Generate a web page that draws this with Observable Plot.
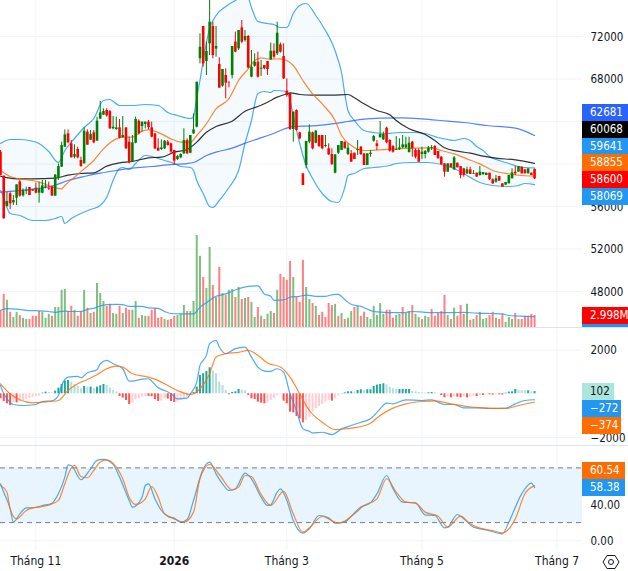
<!DOCTYPE html>
<html><head><meta charset="utf-8">
<script src="https://cdn.jsdelivr.net/npm/d3@7"></script>
<script src="https://cdn.jsdelivr.net/npm/@observablehq/plot@0.6"></script>
<style>
html,body{margin:0;padding:0;background:#fff;overflow:hidden}
#chart{position:relative;width:628px;height:571px;overflow:hidden;font-family:"DejaVu Sans Condensed","DejaVu Sans",sans-serif}
.tag{position:absolute;left:582px;height:17px;line-height:17px;color:#fff;font-size:11.5px;padding-left:8px;box-sizing:border-box;white-space:nowrap;overflow:hidden}
.sep{position:absolute;left:0;width:628px;height:1px;background:#E0E3EB}
</style></head><body><div id="chart"></div>
<script>
const opens=[61115,58856,56000,57200,56345,56785,58320,57005,57445,57790,57445,57725,57255,57255,57820,57665,57820,56975,58670,59700,61585,62840,61900,60645,61365,60330,60015,62995,62245,62935,62150,64220,64600,65035,64940,63310,63250,63405,62465,63405,62055,60205,61960,64030,63530,63720,63940,63405,62840,61490,61365,61430,62055,61900,61270,60425,60580,60960,62210,61020,62840,63467,69900,72940,69650,71310,72940,70810,69365,67325,68330,67700,68330,71470,70840,72815,71625,72000,68175,69210,69585,68925,69270,69650,69805,70620,70370,71215,70120,66855,66605,63250,65035,62935,59076,59860,62056,62935,61962,62684,62684,61649,61429,60896,59139,61021,61272,62056,60896,60958,61021,61272,61586,60958,59860,60896,62150,61900,62464,62276,63374,62213,61649,61272,61335,61523,61523,61084,62056,61272,61272,60896,60896,61115,61429,61649,61178,60645,60017,59233,60017,59453,60080,59766,59547,59076,59453,59013,59139,58919,58982,58919,59139,58512,58292,58825,58135,58010,58135,58606,59233,59233,59704,59453,59076,59139,59484];
const highs=[61270,58860,57350,57350,57035,58040,58450,57665,57820,57790,57570,58200,58290,58450,58450,58290,57945,59015,60015,62055,63215,63215,62210,61805,61585,60645,63405,63215,63155,63155,64410,65885,65195,65195,65035,64470,64410,64190,64470,63405,62525,62685,64410,64160,63940,63940,64095,63940,62840,62370,62275,62210,62210,61960,61270,60800,60960,63310,62370,62685,64720,67700,72250,72940,71470,75390,73350,72940,69990,68895,68960,67700,71060,72410,72565,73505,72565,72095,70680,70370,70525,69740,69270,69650,71375,71310,73350,71375,71310,68015,66665,64880,65100,62995,59076,62119,63687,62997,63154,62684,62684,62684,61900,61429,60864,61743,62119,62056,61900,61272,61021,62213,61649,60958,60958,61272,62684,62213,63999,62997,63468,62276,61743,62590,62370,62684,62527,62527,62119,61429,61429,61586,61272,61649,61743,61743,61178,60708,60017,60017,60017,60708,60080,59766,59547,59704,59704,59390,59139,59766,59201,59139,59139,58606,58919,58825,58135,58261,58919,59547,59766,59766,59704,59453,59547,59139,59547];
const lows=[58920,54840,55940,55720,56095,56095,56880,56880,57130,57035,57445,57195,56315,57195,57665,57510,56975,56975,58450,59700,61585,61900,60580,60490,60490,59700,60015,61775,62210,61900,62150,64220,64565,64410,63250,63215,63155,62370,62465,61365,60015,60175,61900,62745,62995,63310,63215,62465,61365,61210,61270,61365,61680,61020,59860,60330,60490,60895,60895,60960,62780,63405,69430,69115,68330,70210,69900,70055,67140,67230,66135,67170,68015,70465,70680,71310,71470,68960,68110,69115,68080,68235,68865,68330,69740,69900,70210,70435,67955,66290,63155,62055,63090,62280,57978,59547,61900,61335,61900,61549,61335,61523,60802,59860,59076,60896,61272,61429,60802,60174,60425,60802,60802,59860,59860,60645,62056,61272,62464,62213,61900,61115,61021,61272,61272,61429,61429,61021,60645,60488,60174,60425,60488,61021,61272,60802,60488,59860,58762,59233,59641,59390,59641,58606,58762,59013,59013,59013,58762,58856,58982,58919,58450,58072,58198,58386,57821,58010,58135,58606,58919,59233,59076,59076,59076,58919,58543];
const closes=[58920,54840,56470,56250,56566,58040,56975,57510,57510,57035,57570,57255,57630,57945,57915,57600,56975,58950,59765,61740,62745,61995,60580,60895,60580,59765,63090,61775,62780,61995,64030,64815,64940,64530,63310,63467,63405,62430,62685,61430,60110,61995,64190,62840,63940,63940,63435,62525,61430,61210,61520,62150,61740,61115,60270,60705,60895,62210,60960,62685,63215,67700,70995,69430,70590,73350,70210,71060,67140,68895,67610,67640,71060,70525,72565,71470,72000,69020,69115,69585,68175,69020,68960,68895,70620,70055,72315,70525,68015,66450,63250,64880,63155,62370,57978,62119,62997,61429,63091,61649,61429,61743,60864,59955,60864,61743,62119,61429,61492,60174,60425,61366,60896,59860,60958,61021,62590,61649,62778,62778,61994,61209,61115,61335,61523,61805,61805,61962,61429,60645,60174,61115,61178,61523,61523,60802,60488,59955,59233,60017,59641,60582,59641,58919,58919,59453,59013,59076,58762,59233,59201,59139,58512,58135,58606,58386,57821,58261,58919,59170,59076,59766,59076,59076,59547,58919,58600];
const volumes=[4.2,8.3,6.8,3.8,2.5,3.8,3.0,2.3,2.0,2.0,2.8,2.8,4.0,3.8,2.3,3.3,2.8,5.0,5.0,9.3,9.5,4.0,5.3,4.3,2.8,4.0,9.3,4.8,3.5,3.8,11,8.5,6.5,5.3,5.8,3.5,3.3,5.3,3.5,4.8,4.3,4.3,6.5,2.3,3.0,2.8,2.8,4.3,4.8,2.3,2.5,2.0,1.8,2.0,2.8,3.0,3.3,5.5,4.0,4.0,6.5,23,17.8,12.5,9.8,20,10.5,7.5,15,8.5,8.0,9.3,9.5,7.5,10,7.0,7.3,7.5,6.3,2.5,5.0,2.8,2.0,3.3,4.0,3.5,9.3,13.3,12.5,11.8,16.5,12.5,7.5,6.3,16.8,10,7.0,6.0,5.3,3.0,3.8,2.5,6.0,5.5,5.8,2.8,3.5,2.0,2.3,4.0,5.0,5.3,2.8,3.8,2.5,2.0,5.3,3.0,6.0,3.3,4.3,4.3,2.3,3.0,3.3,5.0,3.5,4.0,5.5,3.3,2.5,2.0,2.8,2.5,4.5,2.8,3.5,4.0,8.0,3.0,2.0,4.8,2.8,5.5,3.3,5.8,1.8,2.0,3.0,3.8,2.0,2.3,3.0,3.8,2.3,2.0,3.3,1.3,2.5,2.0,3.5,2.0,2.0,2.8,2.8,3.3,2.998];
const volumeDirs="r"+"rgrggrggrr"+"rrgggrgggg"+"rrgrrgrgrg"+"ggrrggrgrr"+"ggrggrrrrr"+"grrrgggrgg"+"ggrggrgrgr"+"ggrgrgrggr"+"grggrgrrrr"+"grrrggrgrr"+"rrrgrgrggr"+"grrggggggr"+"rrggrggrgg"+"rggrrrrrgr"+"grrrgrgrgg"+"grrgrrgggr"+"grrrrr";
const macdHist=[-230,-352,-459,-536,-413,-413,-337,-306,-260,-214,-153,-122,-107,31,77,61,31,122,260,428,581,612,536,428,352,230,337,306,306,230,306,367,428,383,260,153,77,-122,-199,-306,-490,-428,-275,-230,-153,-122,-125,-130,-260,-352,-337,-230,-240,-352,-398,-383,-306,-230,-153,-77,61,306,842,918,1025,1193,1040,918,536,383,153,-46,61,92,199,168,138,-77,-230,-260,-383,-428,-459,-428,-306,-214,-92,-31,-337,-459,-842,-872,-1040,-1148,-1331,-1224,-1071,-842,-689,-581,-490,-383,-306,-337,-230,-92,15,46,92,92,77,153,184,153,184,184,337,398,428,459,413,306,230,199,199,199,199,200,107,92,61,46,31,46,61,46,15,-77,-184,-153,-184,-153,-153,-184,-153,-184,-153,-122,-122,-77,-77,-46,-46,-61,-46,-46,-61,31,77,92,199,168,153,138,138,92,102];
const bbUpper=[[0,61932],[3,62309],[6,62309],[9,62214],[12,61932],[15,61179],[18,60144],[20,61273],[23,62402],[26,63437],[29,64284],[32,65978],[34,66072],[37,65507],[41,65507],[45,65602],[49,65507],[52,64849],[55,64566],[59,64284],[60,64472],[61,66260],[62,67860],[63,69742],[65,72753],[67,73977],[70,74823],[73,75388],[75,75670],[77,75576],[78,74729],[80,73412],[83,73224],[85,73130],[87,72847],[89,72847],[91,74165],[93,74917],[95,75106],[98,73977],[101,72565],[103,71436],[105,69742],[106,68613],[107,66637],[108,65037],[110,64096],[113,63155],[116,62967],[120,62873],[124,62967],[128,62967],[132,62873],[136,62496],[139,62308],[141,62214],[144,62402],[146,62214],[148,61649],[150,61273],[152,60708],[155,60332],[158,60050],[161,59767],[163,59673],[166,59641]];
const bbLower=[[0,57509],[1,56850],[2,55909],[3,55345],[6,55157],[10,54686],[14,54686],[17,54874],[19,55062],[20,54404],[22,54874],[25,55345],[28,55721],[31,56098],[33,56850],[35,58450],[37,59579],[38,59673],[40,59485],[42,60050],[45,60802],[48,60614],[51,60332],[54,60050],[56,59767],[59,59673],[60,59391],[61,58450],[63,57227],[65,56003],[66,55909],[68,56568],[71,57791],[74,59391],[76,61932],[78,64096],[80,66637],[82,66825],[84,66731],[85,66919],[89,66825],[90,65978],[91,64566],[93,61932],[95,59861],[97,58638],[100,57227],[103,56474],[105,56380],[107,57791],[108,58920],[110,59109],[113,59579],[116,59673],[121,59861],[123,60050],[128,60144],[133,60144],[137,59956],[141,59579],[145,58920],[149,58262],[153,57980],[158,57886],[161,57980],[163,58168],[166,58069]];
const bbBasis=[[0,59389],[3,58825],[6,58605],[10,58448],[13,58197],[17,57758],[19,57664],[20,57978],[23,58762],[26,59546],[29,60330],[32,61430],[36,62370],[38,62526],[41,62526],[44,63091],[46,63216],[50,62840],[53,62370],[56,62056],[59,62056],[61,62684],[64,63781],[67,65193],[71,66134],[74,67859],[77,68957],[79,69741],[81,69992],[84,69867],[87,69898],[89,69741],[91,69271],[94,67860],[97,66605],[100,65664],[104,64095],[106,62684],[109,61743],[113,61272],[118,61335],[123,61429],[128,61492],[134,61523],[137,61272],[141,60958],[145,60488],[149,60017],[153,59390],[158,59076],[162,58919],[166,58855]];
const maBlack=[[0,58856],[5,58605],[10,58605],[17,58668],[21,58950],[25,59107],[29,59170],[33,59797],[37,60111],[41,60236],[46,60581],[50,60644],[54,61115],[58,61366],[61,62056],[64,62997],[67,63530],[72,64032],[76,64973],[80,65412],[83,65820],[86,66291],[89,66604],[90,66699],[93,66542],[97,66480],[103,66480],[108,66542],[110,66229],[113,65664],[117,65037],[121,64629],[123,64095],[127,63311],[132,62778],[135,62213],[138,61523],[142,61209],[146,61021],[150,60739],[154,60550],[160,60394],[166,60068]];
const maBlue=[[0,57350],[5,57476],[10,57633],[16,57915],[21,58448],[26,58825],[31,59138],[36,59389],[41,59609],[47,59766],[52,59923],[57,60017],[60,60142],[64,60801],[67,61115],[72,61491],[76,61962],[80,62370],[84,62777],[89,63373],[91,63531],[97,63594],[103,63782],[108,64001],[113,64221],[118,64315],[125,64346],[131,64252],[139,64033],[144,63907],[151,63625],[160,63374],[163,63091],[166,62681]];
const volumeMa=[[0,4.3],[2,4.7],[5,4.6],[8,4.3],[11,4.2],[15,4.0],[17,3.8],[20,4.1],[22,4.0],[25,4.0],[27,4.5],[29,4.8],[31,5.4],[33,5.7],[36,5.8],[38,5.7],[40,5.3],[44,5.3],[46,4.9],[49,4.8],[51,4.0],[53,3.5],[56,3.4],[60,3.4],[62,5.1],[64,6.2],[67,7.8],[70,8.4],[74,9.7],[77,10.3],[80,10.4],[82,8.4],[84,7.8],[85,6.8],[88,6.9],[90,7.6],[93,7.8],[95,8.1],[98,7.8],[101,7.8],[104,8.3],[105,8.3],[107,7.0],[109,5.8],[112,5.3],[116,4.0],[119,3.8],[122,3.7],[125,3.7],[128,4.0],[132,3.8],[136,3.7],[140,3.7],[144,3.8],[148,3.6],[153,3.5],[156,3.4],[158,3.0],[163,2.8],[166,2.7]];
const macdLine=[[0,383],[1,0],[3,-383],[4,-490],[7,-536],[11,-490],[13,-352],[16,-321],[18,-77],[19,383],[21,765],[24,796],[25,734],[27,964],[30,1102],[31,1377],[33,1530],[35,1377],[38,1148],[40,581],[41,581],[44,673],[46,689],[47,581],[49,275],[51,153],[53,0],[55,-230],[58,-199],[59,0],[61,536],[62,1301],[64,1760],[65,2295],[67,2448],[68,2142],[70,1836],[73,2066],[76,2142],[78,1683],[80,1224],[82,1040],[84,1025],[86,1148],[88,995],[90,0],[92,-765],[94,-1607],[96,-1714],[97,-1790],[100,-1760],[103,-1867],[106,-1607],[109,-1454],[112,-1301],[115,-1148],[118,-689],[120,-428],[122,-459],[126,-275],[131,-306],[134,-275],[138,-490],[141,-490],[144,-643],[148,-643],[152,-673],[157,-658],[160,-459],[163,-306],[166,-272]];
const macdSignal=[[0,459],[3,0],[6,-275],[10,-413],[13,-383],[18,-306],[21,153],[24,459],[27,658],[30,872],[33,1148],[36,1270],[38,1224],[41,918],[45,796],[48,673],[51,459],[55,153],[59,-31],[62,230],[65,918],[67,1683],[70,1836],[74,1897],[77,1989],[80,1760],[83,1408],[87,1224],[90,765],[93,0],[96,-765],[100,-1300],[104,-1637],[107,-1607],[111,-1530],[115,-1346],[118,-995],[122,-658],[126,-459],[131,-352],[135,-321],[140,-459],[145,-581],[150,-643],[157,-673],[161,-535],[166,-374]];
const stochK=[[0,62.6],[1,53.4],[3,35.1],[4,20.5],[6,29.6],[8,36.2],[10,36.2],[13,38.8],[16,41.3],[18,51.6],[20,69.9],[21,83.4],[22,82.7],[25,67.0],[28,79.0],[30,88.2],[32,89.3],[35,83.8],[37,69.9],[40,44.3],[41,37.0],[44,47.9],[45,60.7],[46,62.6],[48,46.1],[50,33.3],[52,27.1],[54,24.9],[56,20.5],[58,23.4],[60,44.3],[63,79.0],[65,86.4],[67,73.5],[69,62.6],[71,55.3],[73,57.1],[76,74.3],[78,68.1],[81,47.9],[83,38.8],[84,39.5],[86,53.4],[87,57.1],[89,44.3],[91,22.3],[94,8.4],[96,13.2],[99,27.8],[102,25.2],[104,19.4],[107,20.5],[109,27.1],[112,37.0],[115,41.7],[117,51.6],[120,71.7],[122,57.1],[125,42.4],[129,41.7],[132,28.5],[135,27.8],[138,14.3],[139,15.0],[142,28.9],[144,24.1],[147,15.0],[151,12.1],[156,7.7],[158,20.5],[162,51.6],[165,63.3],[166,58.38]];
const stochD=[[0,60.7],[2,53.4],[3,35.1],[5,24.1],[8,33.3],[10,36.2],[12,37.0],[16,40.6],[18,44.3],[20,62.6],[22,80.1],[23,82.7],[25,70.6],[27,69.2],[29,77.2],[31,86.4],[33,88.9],[36,80.9],[38,68.1],[40,47.9],[42,39.9],[45,46.1],[47,59.6],[49,47.9],[51,29.6],[54,24.1],[57,20.5],[60,31.5],[62,68.1],[65,83.8],[68,72.8],[72,56.0],[74,58.9],[76,71.7],[78,70.6],[81,50.9],[84,38.8],[88,54.2],[91,29.6],[94,9.5],[96,14.3],[100,26.7],[102,24.1],[105,19.4],[107,21.6],[110,29.6],[113,38.8],[117,46.1],[120,68.1],[123,53.4],[126,42.4],[129,41.3],[132,31.5],[136,27.1],[139,15.0],[143,27.1],[146,18.7],[149,13.9],[153,11.3],[156,8.8],[160,24.1],[163,51.6],[166,60.54]];
const priceTicks=[72000,68000,64000,60000,56000,52000,48000];
const macdTicks=[2000,-2000];
const stochTicks=[40,0];
const monthBars=[11,54,89,131,173];
const monthLabels=["Tháng 11","2026","Tháng 3","Tháng 5","Tháng 7"];
const priceTags=[["62681","#2962FF",104],["60068","#000000",121],["59641","#2196F3",138],["58855","#FF6D00",154],["58600","#FF0000",171],["58069","#2196F3",188]];

const GRID="#F0F3FA",TXT="#131722",FONT='"DejaVu Sans Condensed","DejaVu Sans",sans-serif',FS=11.5;
const W=628,MR=46,xDom=[0,180.9];
const bars=d3.range(opens.length);
const xs=i=>i[0],vs=i=>i[1];
const base=(h,y,marks,extra={})=>Plot.plot(Object.assign({width:W,height:h,marginLeft:0,marginRight:MR,marginTop:0,marginBottom:0,
  x:{domain:xDom,axis:null},y:Object.assign({axis:null},y),style:{background:"transparent",fontFamily:FONT,fontSize:FS+"px"},marks},extra));
const axis=(t,fmt)=>Plot.axisY({anchor:"right",ticks:t,tickSize:0,tickPadding:8,label:null,fill:TXT,fontSize:FS,dy:0.5,tickFormat:fmt||(d=>String(d).replace("-","\u2212"))});
const vgrid=()=>Plot.ruleX(monthBars,{stroke:GRID});
const line=(d,stroke,sw=1.2,op=.8)=>Plot.line(d,{x:xs,y:vs,stroke,strokeWidth:sw,strokeOpacity:op,curve:"monotone-x",clip:true});
const lerp=d=>d3.scaleLinear(d.map(xs),d.map(vs));
const up=lerp(bbUpper),lo=lerp(bbLower);

const volumePlot=base(328,{domain:[0,81.75],range:[327,0]},[
  Plot.ruleX(bars,{x:i=>i,y1:0,y2:i=>volumes[i],strokeWidth:2,stroke:i=>volumeDirs[i]==="g"?"#7FBF7F":"#FF8080"}),
  line(volumeMa,"#2196F3")
],{color:{type:"identity"}});

const gridPlot=base(328,{domain:[44523,75388],range:[328,0]},[
  Plot.ruleY(priceTicks,{stroke:GRID}),vgrid(),axis(priceTicks)]);

const mainPlot=base(328,{domain:[44523,75388],range:[328,0]},[
  Plot.areaY(bars,{x:i=>i,y1:i=>lo(i),y2:i=>up(i),fill:"#2196F3",fillOpacity:.05,clip:true}),
  line(bbUpper,"#2196F3"),line(bbLower,"#2196F3"),
  line(maBlue,"#2962FF"),line(maBlack,"#000000"),line(bbBasis,"#FF6D00"),
  Plot.ruleX(bars,{x:i=>i,y1:i=>lows[i],y2:i=>highs[i],strokeWidth:1,stroke:i=>closes[i]>=opens[i]?"#008000":"#FF0000",clip:true}),
  Plot.ruleX(bars,{x:i=>i,y1:i=>opens[i],y2:i=>closes[i],strokeWidth:2.6,stroke:i=>closes[i]>=opens[i]?"#008000":"#FF0000",clip:true})
],{color:{type:"identity"}});

const histColor=i=>{const v=macdHist[i],p=i?macdHist[i-1]:v;
  return v>=0?(v>=p?"#26A69A":"#B2DFDB"):(v<=p?"#FF5252":"#FFCDD2");};
const macdPlot=base(116,{domain:[-2368,2945],range:[116,0]},[
  Plot.ruleY(macdTicks,{stroke:GRID}),vgrid(),axis(macdTicks),
  Plot.ruleX(bars,{x:i=>i,y1:0,y2:i=>macdHist[i],strokeWidth:2,stroke:histColor}),
  line(macdLine,"#2196F3"),line(macdSignal,"#FF6D00")
],{color:{type:"identity"}});

const monthText=(weight,keep)=>Plot.text(monthBars.filter((d,i)=>keep(monthLabels[i])),{x:d=>d,y:-10.6,dy:11,
  text:d=>monthLabels[monthBars.indexOf(d)],fill:TXT,fontSize:FS+.5,lineAnchor:"middle",fontWeight:weight});
const stochPlot=base(125,{domain:[-10.6,103.5],range:[104,0]},[
  Plot.rect([0],{x1:0,x2:xDom[1],y1:20,y2:80,fill:"#2196F3",fillOpacity:.1}),
  Plot.ruleY(stochTicks,{stroke:GRID}),
  Plot.ruleX(monthBars,{stroke:GRID,y1:-10.6,y2:103.5}),
  axis(stochTicks,d=>d.toFixed(2)),
  Plot.ruleY([80,20],{stroke:"#787B86",strokeDasharray:"5,4"}),
  line(stochK,"#2196F3"),line(stochD,"#FF6D00"),
  monthText("normal",t=>t!=="2026"),
  monthText("bold",t=>t==="2026")
],{marginBottom:21,color:{type:"identity"}});

const chart=document.getElementById("chart");
const put=(el,top)=>{el.style.position="absolute";el.style.top=top+"px";el.style.left="0";chart.appendChild(el);};
put(gridPlot,0);put(volumePlot,0);put(mainPlot,0);put(macdPlot,329);put(stochPlot,446);
const sep=t=>{const d=document.createElement("div");d.className="sep";d.style.top=t+"px";chart.appendChild(d);};
sep(327);sep(445);
const tag=(txt,bg,top,w,col="#fff")=>{const d=document.createElement("div");d.className="tag";d.textContent=txt;
  d.style.cssText=`top:${top}px;width:${w}px;background:${bg};color:${col}`;chart.appendChild(d);};
priceTags.forEach(([t,c,y])=>tag(t,c,y,46));
tag("2.998M","#FF0000",307,46);
tag("","#2196F3",324,46);chart.lastChild.style.height="3px";
tag("102","#AEE5DA",383,32,TXT);
tag("\u2212272","#2196F3",400,39);
tag("\u2212374","#FF6D00",417,39);
tag("60.54","#FF6D00",462,43);
tag("58.38","#2196F3",479,43);
chart.insertAdjacentHTML("beforeend",`<svg style="position:absolute;left:601px;top:552px" width="20" height="20" viewBox="0 0 20 20" fill="none" stroke="${TXT}" stroke-width="1"><path d="M6 3.5h8l4 6.5-4 6.5H6L2 10z"/><circle cx="10" cy="10" r="2.5"/></svg>`);
</script></body></html>
